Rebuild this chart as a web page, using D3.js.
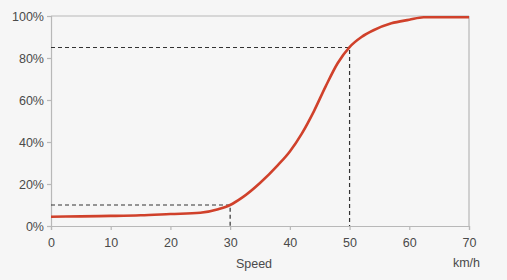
<!DOCTYPE html>
<html><head><meta charset="utf-8">
<script src="https://cdn.jsdelivr.net/npm/d3@7"></script>
<style>
html,body{margin:0;padding:0;background:#f6f6f6;}
svg{display:block;font-family:"Liberation Sans",Arial,sans-serif;}
</style></head><body>
<svg id="c" width="507" height="280"></svg>
<script>
const speeds = [0, 5, 10, 15, 20, 25, 28, 30, 32, 35, 38, 40, 42, 44, 46, 48, 50, 52, 54, 57, 60, 62.4, 66, 70];
const shares = [4.4, 4.6, 4.8, 5.1, 5.7, 6.3, 8, 10, 13.5, 20.5, 29, 35.5, 44, 54.5, 66.5, 77.5, 85.2, 90, 93.2, 96.5, 98.2, 99.4, 99.4, 99.4];
const xTicks = [0, 10, 20, 30, 40, 50, 60, 70];
const yTicks = [0, 20, 40, 60, 80, 100];
const refLines = [{speed: 30, share: 10}, {speed: 50, share: 85}];

const svg = d3.select("#c");
const m = {l: 51, t: 16, r: 469, b: 226};
const x = d3.scaleLinear().domain([0, 70]).range([m.l, m.r]);
const y = d3.scaleLinear().domain([0, 100]).range([m.b, m.t]);
const axisColor = "#b8b8b8", textColor = "#4a4a4a";

svg.append("line").attr("x1", m.l).attr("x2", m.r).attr("y1", m.t).attr("y2", m.t).attr("stroke", axisColor).attr("stroke-width", 1.2);
svg.append("line").attr("x1", m.r).attr("x2", m.r).attr("y1", m.t).attr("y2", m.b).attr("stroke", axisColor).attr("stroke-width", 1.2);

const gx = svg.append("g").attr("transform", `translate(0,${m.b})`)
  .call(d3.axisBottom(x).tickValues(xTicks).tickSize(4).tickPadding(8).tickFormat(d3.format("d")));
const gy = svg.append("g").attr("transform", `translate(${m.l},0)`)
  .call(d3.axisLeft(y).tickValues(yTicks).tickSize(4).tickPadding(3).tickFormat(d => d + "%"));
[gx, gy].forEach(g => {
  g.select(".domain").attr("stroke", axisColor).attr("stroke-width", 1.2);
  g.selectAll(".tick line").attr("stroke", axisColor).attr("stroke-width", 1.2);
  g.selectAll(".tick text").attr("fill", textColor).attr("font-size", 12.5).attr("font-family", "Liberation Sans, Arial, sans-serif");
});

refLines.forEach(r => {
  svg.append("path")
    .attr("d", `M${x(0)},${y(r.share)}H${x(r.speed)}V${y(0)}`)
    .attr("fill", "none").attr("stroke", "#333").attr("stroke-width", 1.2).attr("stroke-dasharray", "4,3");
});

const pts = speeds.map((s, i) => [s, shares[i]]);
svg.append("path").datum(pts)
  .attr("d", d3.line().x(d => x(d[0])).y(d => y(d[1])).curve(d3.curveMonotoneX))
  .attr("fill", "none").attr("stroke", "#d0412b").attr("stroke-width", 2.6).attr("stroke-linejoin", "round");

svg.append("text").attr("x", 254).attr("y", 268).attr("text-anchor", "middle")
  .attr("fill", textColor).attr("font-size", 12.5).text("Speed");
svg.append("text").attr("x", 480).attr("y", 267).attr("text-anchor", "end")
  .attr("fill", textColor).attr("font-size", 12.5).text("km/h");
</script></body></html>
